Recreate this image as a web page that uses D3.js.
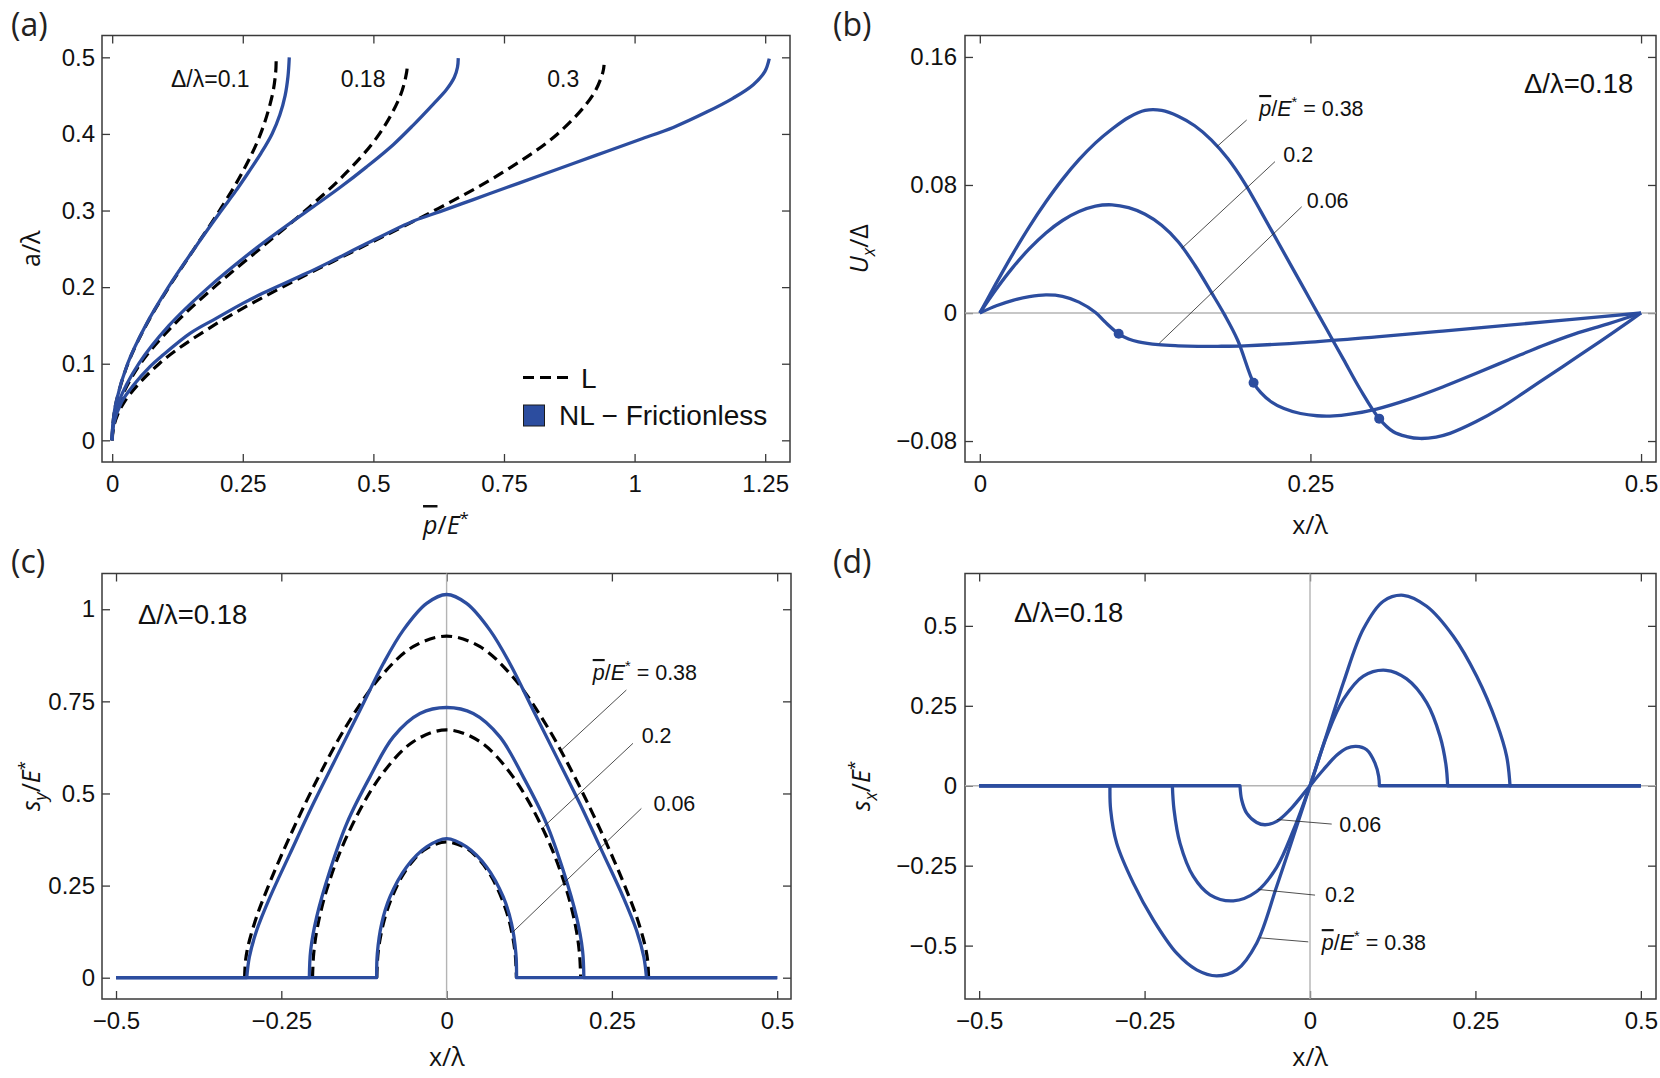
<!DOCTYPE html>
<html lang="en">
<head>
<meta charset="UTF-8">
<title>Wavy surface contact</title>
<script src="https://d3js.org/d3.v7.min.js"></script>
<style>
    body { margin: 0; background: #fff; }
    .tick text { font-family: "Liberation Sans", Arial, sans-serif; font-size: 24px; fill: #111; }
    .tick line { stroke: #3a3a3a; stroke-width: 1.3; }
    .title { font-family: "Open Sans", sans-serif; fill: #111; }
    .note { font-family: "Liberation Sans", Arial, sans-serif; fill: #111; }
    .plabel { font-family: "Open Sans", sans-serif; font-size: 32px; fill: #222; }
</style>
</head>
<body>
<div id="chart"></div>
<script>
// ---------- data ----------
// (a) contact half width a/lambda against mean pressure p/E*  -> [p, a]
var aLin01  = [[0,0],[0.0012,0.02],[0.0077,0.05],[0.030,0.1],[0.0647,0.15],[0.1085,0.2],[0.157,0.25],[0.2055,0.3],[0.2493,0.35],[0.284,0.4],[0.3063,0.45],[0.3129,0.48],[0.314,0.5]];
var aLin018 = [[0,0],[0.0022,0.02],[0.0138,0.05],[0.054,0.1],[0.1166,0.15],[0.1954,0.2],[0.2827,0.25],[0.370,0.3],[0.449,0.35],[0.5115,0.4],[0.5516,0.45],[0.5635,0.48],[0.565,0.49]];
var aLin03  = [[0,0],[0.0037,0.02],[0.0231,0.05],[0.090,0.1],[0.1943,0.15],[0.3256,0.2],[0.4712,0.25],[0.6169,0.3],[0.7482,0.35],[0.8525,0.4],[0.9194,0.45],[0.9391,0.48],[0.9416,0.49]];
var aNL01   = [[0,0],[0.0012,0.02],[0.0075,0.05],[0.0295,0.1],[0.064,0.15],[0.1075,0.2],[0.157,0.25],[0.209,0.3],[0.236,0.325],[0.261,0.35],[0.285,0.375],[0.306,0.4],[0.321,0.425],[0.331,0.45],[0.3365,0.475],[0.339,0.5]];
var aNL018  = [[0,0],[0.002,0.02],[0.0125,0.05],[0.051,0.1],[0.109,0.15],[0.185,0.2],[0.274,0.25],[0.347,0.2867],[0.385,0.305],[0.436,0.33],[0.487,0.357],[0.538,0.386],[0.5764,0.4116],[0.6147,0.439],[0.640,0.458],[0.655,0.474],[0.661,0.487],[0.6625,0.499]];
var aNL03   = [[0,0],[0.0025,0.02],[0.018,0.05],[0.041,0.0722],[0.0724,0.0962],[0.0935,0.1091],[0.149,0.1396],[0.199,0.1592],[0.250,0.1788],[0.288,0.1919],[0.372,0.218],[0.418,0.2333],[0.488,0.2572],[0.578,0.2867],[0.6275,0.2986],[0.6913,0.3143],[0.7551,0.33],[0.8189,0.3457],[0.8826,0.3614],[0.9464,0.3771],[1.0102,0.3928],[1.074,0.4085],[1.1378,0.4285],[1.1889,0.4468],[1.2272,0.4643],[1.2495,0.4817],[1.2578,0.4983]];
var aDeltaLabels = ["\u0394/\u03bb=0.1", "0.18", "0.3"];
var aDeltaPos = [[0.1126,0.4616],[0.4374,0.4616],[0.8329,0.4616]];

// (b) tangential displacement Ux/Delta against x/lambda -> [x, U]
var ux006 = [[0,0],[0.0125,0.0045],[0.025,0.0079],[0.0375,0.0102],[0.05,0.0113],[0.0625,0.0104],[0.075,0.0068],[0.0875,0.0003],[0.0946,-0.0055],[0.105,-0.013],[0.1125,-0.0162],[0.12,-0.018],[0.135,-0.0198],[0.15,-0.0205],[0.165,-0.0208],[0.18,-0.0208],[0.2,-0.0205],[0.25,-0.0182],[0.3,-0.0149],[0.35,-0.0113],[0.4,-0.0076],[0.45,-0.0038],[0.5,0]];
var ux02  = [[0,0],[0.0125,0.015],[0.025,0.0285],[0.0375,0.0402],[0.05,0.05],[0.0625,0.0578],[0.075,0.0634],[0.0875,0.0668],[0.1,0.0676],[0.1125,0.0658],[0.125,0.0617],[0.1375,0.0548],[0.15,0.0445],[0.1625,0.03],[0.175,0.013],[0.185,-0.001],[0.195,-0.017],[0.207,-0.0436],[0.2125,-0.0498],[0.22,-0.0553],[0.23,-0.0597],[0.2425,-0.0628],[0.255,-0.0642],[0.2675,-0.0643],[0.28,-0.0632],[0.3,-0.06],[0.325,-0.0538],[0.35,-0.0462],[0.375,-0.0378],[0.4,-0.0292],[0.425,-0.0206],[0.45,-0.013],[0.475,-0.0068],[0.5,0]];
var ux038 = [[0,0],[0.0125,0.0188],[0.025,0.037],[0.0375,0.054],[0.05,0.0695],[0.0625,0.0835],[0.075,0.0958],[0.0875,0.1063],[0.1,0.115],[0.1125,0.1222],[0.125,0.1266],[0.1375,0.1266],[0.15,0.123],[0.1625,0.117],[0.175,0.1082],[0.1875,0.0965],[0.2,0.0815],[0.2125,0.0635],[0.225,0.045],[0.2375,0.0265],[0.25,0.008],[0.2625,-0.0105],[0.275,-0.029],[0.2875,-0.0475],[0.302,-0.066],[0.3127,-0.0742],[0.3229,-0.0772],[0.3329,-0.0784],[0.345,-0.0775],[0.3555,-0.0752],[0.375,-0.068],[0.3933,-0.0596],[0.4122,-0.0493],[0.4311,-0.0388],[0.45,-0.0284],[0.4689,-0.0179],[0.4845,-0.009],[0.5,0]];
var uxEdges = [[0.105,-0.013],[0.207,-0.0436],[0.302,-0.066]];

// (c) normal traction sy/E* against x/lambda -> [x, s]
var syNL006 = [[-0.5,0],[-0.1058,0],[-0.1048,0.0652],[-0.0982,0.1467],[-0.0857,0.2191],[-0.0605,0.3006],[-0.0302,0.3549],[0,0.3775],[0.0302,0.3549],[0.0605,0.3006],[0.0857,0.2191],[0.0982,0.1467],[0.1048,0.0652],[0.1058,0],[0.5,0]];
var syNL02  = [[-0.5,0],[-0.2076,0],[-0.2056,0.0742],[-0.1965,0.1648],[-0.1763,0.2915],[-0.1511,0.4183],[-0.1159,0.545],[-0.0806,0.6536],[-0.0403,0.717],[0,0.7333],[0.0403,0.717],[0.0806,0.6536],[0.1159,0.545],[0.1511,0.4183],[0.1763,0.2915],[0.1965,0.1648],[0.2056,0.0742],[0.2076,0],[0.5,0]];
var syNL038 = [[-0.5,0],[-0.3023,0],[-0.2983,0.0561],[-0.2872,0.1286],[-0.267,0.2191],[-0.2368,0.3368],[-0.2015,0.4726],[-0.1663,0.5993],[-0.131,0.726],[-0.0957,0.8528],[-0.0655,0.9433],[-0.0302,1.0158],[0,1.04],[0.0302,1.0158],[0.0655,0.9433],[0.0957,0.8528],[0.131,0.726],[0.1663,0.5993],[0.2015,0.4726],[0.2368,0.3368],[0.267,0.2191],[0.2872,0.1286],[0.2983,0.0561],[0.3023,0],[0.5,0]];
var syL006 = [[-0.1056,0],[-0.104,0.0597],[-0.1,0.1108],[-0.09,0.1826],[-0.07,0.267],[-0.05,0.3192],[-0.03,0.3511],[0,0.3684],[0.03,0.3511],[0.05,0.3192],[0.07,0.267],[0.09,0.1826],[0.1,0.1108],[0.104,0.0597],[0.1056,0]];
var syL02  = [[-0.2028,0],[-0.201,0.0658],[-0.195,0.1406],[-0.18,0.2465],[-0.15,0.3872],[-0.1,0.5465],[-0.05,0.641],[0,0.6726],[0.05,0.641],[0.1,0.5465],[0.15,0.3872],[0.18,0.2465],[0.195,0.1406],[0.201,0.0658],[0.2028,0]];
var syL038 = [[-0.3055,0],[-0.304,0.0475],[-0.30,0.088],[-0.29,0.1512],[-0.28,0.2017],[-0.25,0.3317],[-0.2,0.5228],[-0.15,0.6879],[-0.1,0.8167],[-0.05,0.899],[0,0.927],[0.05,0.899],[0.1,0.8167],[0.15,0.6879],[0.2,0.5228],[0.25,0.3317],[0.28,0.2017],[0.29,0.1512],[0.30,0.088],[0.304,0.0475],[0.3055,0]];

// (d) shear traction sx/E* against x/lambda -> [x, s]
var sx006 = [[-0.5,0],[-0.1058,0],[-0.1033,-0.0438],[-0.0957,-0.0856],[-0.0806,-0.1148],[-0.068,-0.122],[-0.0504,-0.1116],[-0.0302,-0.0751],[-0.0151,-0.0386],[0,0],[0.0202,0.05],[0.0403,0.095],[0.0554,0.117],[0.0695,0.1231],[0.0856,0.1127],[0.0982,0.0709],[0.1038,0.0292],[0.1048,0],[0.5,0]];
var sx02  = [[-0.5,0],[-0.208,0],[-0.2055,-0.075],[-0.1965,-0.1794],[-0.1763,-0.2838],[-0.1511,-0.3412],[-0.1159,-0.36],[-0.0806,-0.3307],[-0.0504,-0.255],[-0.0252,-0.14],[0,0],[0.0252,0.155],[0.0504,0.27],[0.0806,0.343],[0.1149,0.361],[0.1461,0.334],[0.1763,0.26],[0.1965,0.155],[0.2055,0.065],[0.208,0],[0.5,0]];
var sx038 = [[-0.5,0],[-0.3023,0],[-0.3013,-0.0751],[-0.2922,-0.1794],[-0.267,-0.3046],[-0.2368,-0.4194],[-0.2015,-0.5238],[-0.1713,-0.5759],[-0.1411,-0.5947],[-0.1108,-0.5759],[-0.0806,-0.4924],[-0.0504,-0.3151],[-0.0252,-0.1586],[0,0],[0.0252,0.16],[0.0504,0.322],[0.0806,0.49],[0.1108,0.577],[0.1411,0.5957],[0.1763,0.5613],[0.2166,0.4674],[0.2519,0.3422],[0.2821,0.1961],[0.2972,0.0918],[0.3023,0],[0.5,0]];

// pressure labels and their leader lines (data coordinates)
var loadLabels = ["0.38", "0.2", "0.06"];
var bLeaders = [[[0.2018,0.1206],[0.1792,0.1039]],[[0.2232,0.0946],[0.1527,0.0404]],[[0.2434,0.0664],[0.1357,-0.0189]]];
var bLabelPos = [[0.2113,0.1231],[0.2295,0.0944],[0.2472,0.0659]];
var cLeaders = [[[0.2719,0.7808],[0.1737,0.6179]],[[0.2819,0.6361],[0.1469,0.4096]],[[0.2946,0.4595],[0.1005,0.1244]]];
var cLabelPos = [[0.221,0.808],[0.295,0.638],[0.3129,0.4522]];
var dLeaders = [[[-0.0026,-0.4883],[-0.0756,-0.4757]],[[0.0076,-0.3421],[-0.0781,-0.3243]],[[0.0328,-0.1199],[-0.05,-0.1055]]];
var dLabelPos = [[0.0177,-0.514],[0.0227,-0.363],[0.0443,-0.144]];

// tick values
var aTicksX = [0, 0.25, 0.5, 0.75, 1, 1.25], aTicksY = [0, 0.1, 0.2, 0.3, 0.4, 0.5];
var bTicksX = [0, 0.25, 0.5], bTicksY = [-0.08, 0, 0.08, 0.16];
var cTicksX = [-0.5, -0.25, 0, 0.25, 0.5], cTicksY = [0, 0.25, 0.5, 0.75, 1];
var dTicksX = [-0.5, -0.25, 0, 0.25, 0.5], dTicksY = [-0.5, -0.25, 0, 0.25, 0.5];

// ---------- drawing ----------
var blue = "#2c4d9f";
var W = 1660, H = 1078;

var svg = d3.select("#chart").append("svg")
    .attr("width", W).attr("height", H)
    .style("display", "block");

var fmt = d3.format("~g");

function makePanel(box, xDom, yDom, xTicks, yTicks, yPad) {
    var x = d3.scaleLinear().domain(xDom).range([box.left, box.right]);
    var y = d3.scaleLinear().domain(yDom).range([box.bottom, box.top]);
    var g = svg.append("g");
    var ax = g.append("g");
    ax.append("g").attr("transform", "translate(0," + box.bottom + ")")
        .call(d3.axisBottom(x).tickValues(xTicks).tickFormat(fmt).tickSizeInner(-8).tickSizeOuter(0).tickPadding(13));
    ax.append("g").attr("transform", "translate(0," + box.top + ")")
        .call(d3.axisTop(x).tickValues(xTicks).tickFormat("").tickSizeInner(-8).tickSizeOuter(0));
    ax.append("g").attr("transform", "translate(" + box.left + ",0)")
        .call(d3.axisLeft(y).tickValues(yTicks).tickFormat(fmt).tickSizeInner(-8).tickSizeOuter(0).tickPadding(yPad));
    ax.append("g").attr("transform", "translate(" + box.right + ",0)")
        .call(d3.axisRight(y).tickValues(yTicks).tickFormat("").tickSizeInner(-8).tickSizeOuter(0));
    ax.selectAll(".domain").remove();
    g.append("rect")
        .attr("x", box.left).attr("y", box.top)
        .attr("width", box.right - box.left).attr("height", box.bottom - box.top)
        .attr("fill", "none").attr("stroke", "#3a3a3a").attr("stroke-width", 1.5);
    return { x: x, y: y, g: g, box: box };
}

// rich text with italics, overbar, super/subscripts
function addRich(g, x, y, size, parts, cls) {
    var t = g.append("text").attr("class", cls || "note")
        .attr("x", x).attr("y", y).style("font-size", size + "px");
    var shift = 0;
    parts.forEach(function (p) {
        var s = t.append("tspan").text(p.t);
        var dy = 0;
        if (p.sup) { dy = -0.42 * size; s.style("font-size", (0.68 * size) + "px"); }
        if (p.sub) { dy = 0.28 * size; s.style("font-size", (0.7 * size) + "px"); }
        if (dy - shift !== 0) s.attr("dy", dy - shift);
        shift = dy;
        if (p.it) s.style("font-style", "italic");
        if (p.over) s.style("text-decoration", "overline");
    });
    return t;
}

function pOverE(rest) {
    var parts = [{ t: "p", it: true, over: true }, { t: "/" }, { t: "E", it: true }, { t: "*", sup: true }];
    if (rest) parts.push({ t: rest });
    return parts;
}

function curvePath(P, data) {
    return d3.line().x(function (d) { return P.x(d[0]); }).y(function (d) { return P.y(d[1]); })
        .curve(d3.curveCatmullRom.alpha(0.5))(data);
}

// flat ends drawn straight, contact part smooth
function flatEndPath(P, data) {
    var n = data.length;
    var mid = curvePath(P, data.slice(1, n - 1));
    return "M" + P.x(data[0][0]) + "," + P.y(data[0][1]) + mid.replace(/^M/, "L") +
        "L" + P.x(data[n - 1][0]) + "," + P.y(data[n - 1][1]);
}

function drawBlue(P, d) {
    P.g.append("path").attr("d", d).attr("fill", "none").attr("stroke", blue)
        .attr("stroke-width", 3.3).attr("stroke-linejoin", "round");
}
function drawDash(P, d) {
    P.g.append("path").attr("d", d).attr("fill", "none").attr("stroke", "#000")
        .attr("stroke-width", 3.2).attr("stroke-dasharray", "11,6");
}
function grayLine(P, x1, y1, x2, y2) {
    P.g.append("line").attr("x1", x1).attr("y1", y1).attr("x2", x2).attr("y2", y2)
        .attr("stroke", "#b4b4b4").attr("stroke-width", 1.4);
}
function leaders(P, lines, pos, size) {
    lines.forEach(function (l, i) {
        P.g.append("line")
            .attr("x1", P.x(l[0][0])).attr("y1", P.y(l[0][1]))
            .attr("x2", P.x(l[1][0])).attr("y2", P.y(l[1][1]))
            .attr("stroke", "#222").attr("stroke-width", 0.8);
        var parts = i === 0 ? pOverE(" = " + loadLabels[i]) : [{ t: loadLabels[i] }];
        addRich(P.g, P.x(pos[i][0]), P.y(pos[i][1]), size, parts);
    });
}

// ---- panel (a) ----
var A = makePanel({ left: 102, right: 790, top: 35.5, bottom: 462 }, [-0.0195, 1.2975], [-0.0283, 0.5285], aTicksX, aTicksY, 7);
[aLin01, aLin018, aLin03].forEach(function (d) { drawDash(A, curvePath(A, d)); });
[aNL01, aNL018, aNL03].forEach(function (d) { drawBlue(A, curvePath(A, d)); });
aDeltaLabels.forEach(function (s, i) {
    A.g.append("text").attr("class", "note").style("font-size", "23px")
        .attr("x", A.x(aDeltaPos[i][0])).attr("y", A.y(aDeltaPos[i][1])).text(s);
});
// legend
A.g.append("line").attr("x1", 523).attr("x2", 568).attr("y1", 377.5).attr("y2", 377.5)
    .attr("stroke", "#000").attr("stroke-width", 3).attr("stroke-dasharray", "11,6");
A.g.append("text").attr("class", "note").style("font-size", "28px").attr("x", 581).attr("y", 388).text("L");
A.g.append("rect").attr("x", 523.5).attr("y", 405).attr("width", 21).attr("height", 21)
    .attr("fill", blue).attr("stroke", "#1a1a1a").attr("stroke-width", 1);
A.g.append("text").attr("class", "note").style("font-size", "28px").attr("x", 559).attr("y", 425).text("NL \u2212 Frictionless");
addRich(A.g, 446, 534, 25, pOverE(), "title").attr("text-anchor", "middle");
addRich(A.g, 40, 248.7, 25, [{ t: "a/\u03bb" }], "title")
    .attr("text-anchor", "middle").attr("transform", "rotate(-90,40,248.7)");
svg.append("text").attr("class", "plabel").attr("x", 11).attr("y", 36).text("(a)");

// ---- panel (b) ----
var B = makePanel({ left: 965, right: 1656, top: 35.5, bottom: 462 }, [-0.0112, 0.5113], [-0.0931, 0.1734], bTicksX, bTicksY, 8);
grayLine(B, B.box.left, B.y(0), B.box.right, B.y(0));
[ux006, ux02, ux038].forEach(function (d) { drawBlue(B, curvePath(B, d)); });
B.g.selectAll("circle.edge").data(uxEdges).enter().append("circle")
    .attr("class", "edge").attr("cx", function (d) { return B.x(d[0]); })
    .attr("cy", function (d) { return B.y(d[1]); }).attr("r", 5).attr("fill", blue);
leaders(B, bLeaders, bLabelPos, 21.5);
B.g.append("text").attr("class", "note").style("font-size", "27.5px").attr("x", 1524).attr("y", 93).text("\u0394/\u03bb=0.18");
addRich(B.g, 1310, 534, 25, [{ t: "x/\u03bb" }], "title").attr("text-anchor", "middle");
addRich(B.g, 868, 248.7, 25, [{ t: "U", it: true }, { t: "x", it: true, sub: true }, { t: "/\u0394" }], "title")
    .attr("text-anchor", "middle").attr("transform", "rotate(-90,868,248.7)");
svg.append("text").attr("class", "plabel").attr("x", 833).attr("y", 36).text("(b)");

// ---- panel (c) ----
var C = makePanel({ left: 102, right: 791, top: 573.5, bottom: 999 }, [-0.5212, 0.5209], [-0.0578, 1.097], cTicksX, cTicksY, 7);
grayLine(C, C.x(0), C.box.top, C.x(0), C.box.bottom);
[syL006, syL02, syL038].forEach(function (d) { drawDash(C, curvePath(C, d)); });
[syNL006, syNL02, syNL038].forEach(function (d) { drawBlue(C, flatEndPath(C, d)); });
leaders(C, cLeaders, cLabelPos, 21.5);
C.g.append("text").attr("class", "note").style("font-size", "27.5px").attr("x", 138).attr("y", 624).text("\u0394/\u03bb=0.18");
addRich(C.g, 446.8, 1066, 25, [{ t: "x/\u03bb" }], "title").attr("text-anchor", "middle");
addRich(C.g, 40, 786, 25, [{ t: "s", it: true }, { t: "y", it: true, sub: true }, { t: "/" }, { t: "E", it: true }, { t: "*", sup: true }], "title")
    .attr("text-anchor", "middle").attr("transform", "rotate(-90,40,786)");
svg.append("text").attr("class", "plabel").attr("x", 11).attr("y", 573).text("(c)");

// ---- panel (d) ----
var D = makePanel({ left: 965, right: 1656, top: 573.5, bottom: 999 }, [-0.5214, 0.5229], [-0.667, 0.6638], dTicksX, dTicksY, 8);
grayLine(D, D.x(0), D.box.top, D.x(0), D.box.bottom);
grayLine(D, D.box.left, D.y(0), D.box.right, D.y(0));
[sx006, sx02, sx038].forEach(function (d) { drawBlue(D, flatEndPath(D, d)); });
leaders(D, dLeaders, dLabelPos, 21.5);
D.g.append("text").attr("class", "note").style("font-size", "27.5px").attr("x", 1014).attr("y", 622).text("\u0394/\u03bb=0.18");
addRich(D.g, 1310, 1066, 25, [{ t: "x/\u03bb" }], "title").attr("text-anchor", "middle");
addRich(D.g, 870, 786, 25, [{ t: "s", it: true }, { t: "x", it: true, sub: true }, { t: "/" }, { t: "E", it: true }, { t: "*", sup: true }], "title")
    .attr("text-anchor", "middle").attr("transform", "rotate(-90,870,786)");
svg.append("text").attr("class", "plabel").attr("x", 833).attr("y", 573).text("(d)");
</script>
</body>
</html>
